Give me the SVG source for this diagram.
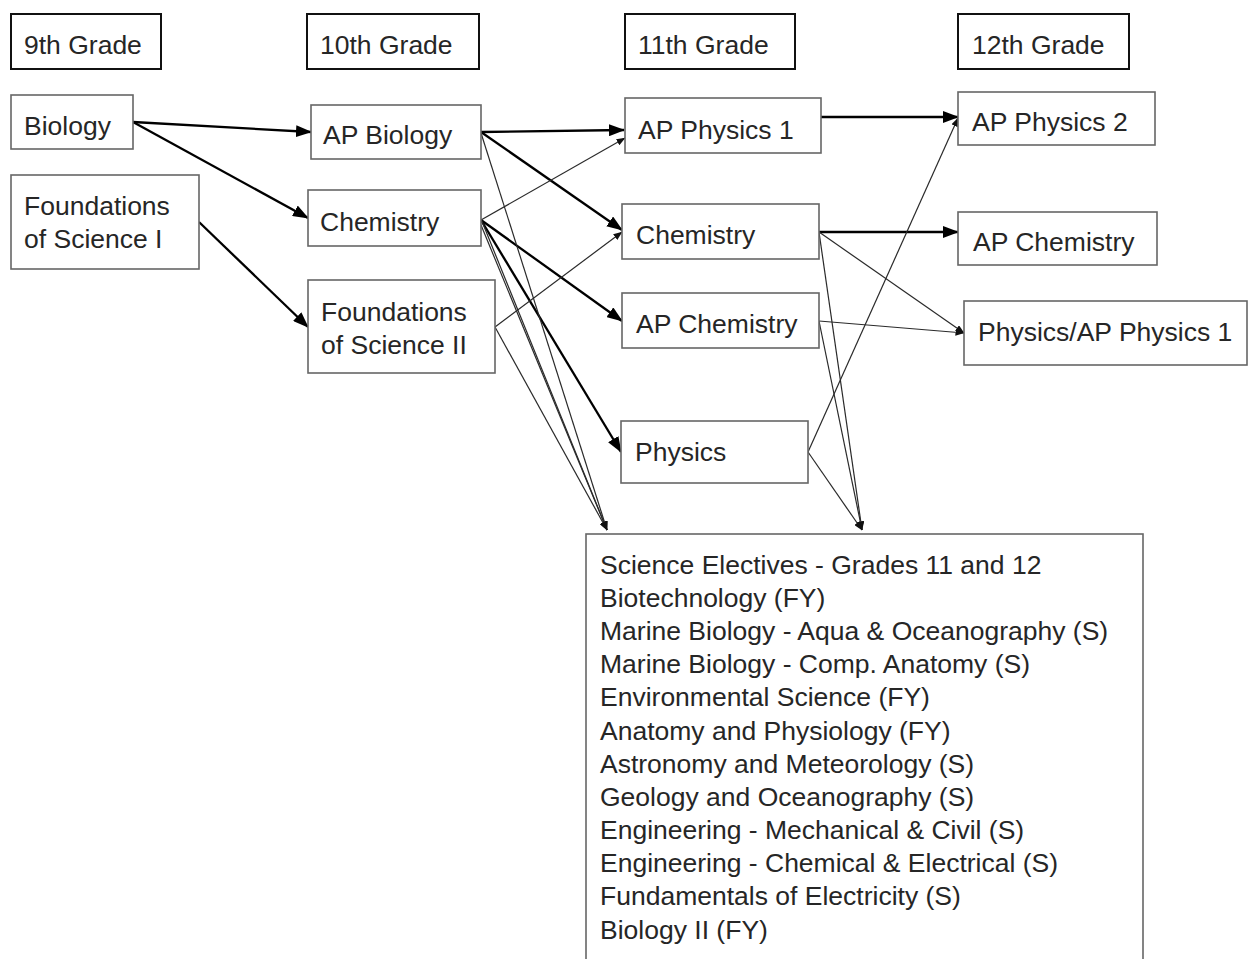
<svg xmlns="http://www.w3.org/2000/svg" width="1248" height="959" viewBox="0 0 1248 959">
<style>
text{font-family:"Liberation Sans",Arial,sans-serif;font-size:26.5px;fill:#262626}
.hdr{fill:#fff;stroke:#111;stroke-width:2}
.box{fill:#fff;stroke:#666;stroke-width:1.6}
.thick{stroke:#000;stroke-width:2.3;fill:none;marker-end:url(#big)}
.thin{stroke:#2a2a2a;stroke-width:1.2;fill:none;marker-end:url(#small)}
</style>
<defs>
<marker id="big" markerUnits="userSpaceOnUse" markerWidth="16" markerHeight="12" refX="15" refY="6" orient="auto"><path d="M0,0 L16,6 L0,12 z" fill="#000"/></marker>
<marker id="small" markerUnits="userSpaceOnUse" markerWidth="9" markerHeight="7" refX="8.5" refY="3.5" orient="auto"><path d="M0,0 L9,3.5 L0,7 z" fill="#111"/></marker>
</defs>
<rect width="1248" height="959" fill="#fff"/>
<g id="connectors">
<line class="thick" x1="133" y1="122" x2="311" y2="132"/>
<line class="thick" x1="133" y1="122" x2="308" y2="218"/>
<line class="thick" x1="199" y1="222" x2="308" y2="327"/>
<line class="thick" x1="481" y1="132" x2="624" y2="130"/>
<line class="thick" x1="481" y1="132" x2="622" y2="230"/>
<line class="thick" x1="481" y1="220" x2="622" y2="321"/>
<line class="thick" x1="481" y1="220" x2="621" y2="452"/>
<line class="thick" x1="821" y1="117" x2="958" y2="117"/>
<line class="thick" x1="819" y1="232" x2="958" y2="232"/>
<line class="thin" x1="481" y1="220" x2="625" y2="138"/>
<line class="thin" x1="495" y1="327" x2="622" y2="232"/>
<line class="thin" x1="481" y1="133" x2="607" y2="530"/>
<line class="thin" x1="481" y1="219" x2="607" y2="530"/>
<line class="thin" x1="481" y1="225" x2="607" y2="530"/>
<line class="thin" x1="495" y1="327" x2="607" y2="530"/>
<line class="thin" x1="819" y1="232" x2="862" y2="530"/>
<line class="thin" x1="819" y1="321" x2="862" y2="530"/>
<line class="thin" x1="808" y1="452" x2="862" y2="530"/>
<line class="thin" x1="808" y1="452" x2="958" y2="118"/>
<line class="thin" x1="819" y1="232" x2="964" y2="333"/>
<line class="thin" x1="819" y1="321" x2="964" y2="333"/>
</g>
<g id="h9"><rect class="hdr" x="11" y="14" width="150" height="55"/><text x="24" y="54">9th Grade</text></g>
<g id="h10"><rect class="hdr" x="307" y="14" width="172" height="55"/><text x="320" y="54">10th Grade</text></g>
<g id="h11"><rect class="hdr" x="625" y="14" width="170" height="55"/><text x="638" y="54">11th Grade</text></g>
<g id="h12"><rect class="hdr" x="958" y="14" width="171" height="55"/><text x="972" y="54">12th Grade</text></g>
<g id="biology"><rect class="box" x="11" y="95" width="122" height="54"/><text x="24" y="135">Biology</text></g>
<g id="fos1"><rect class="box" x="11" y="175" width="188" height="94"/><text x="24" y="215">Foundations</text><text x="24" y="248">of Science I</text></g>
<g id="apbio"><rect class="box" x="311" y="105" width="170" height="54"/><text x="323" y="144">AP Biology</text></g>
<g id="chem10"><rect class="box" x="308" y="190" width="173" height="56"/><text x="320" y="231">Chemistry</text></g>
<g id="fos2"><rect class="box" x="308" y="280" width="187" height="93"/><text x="321" y="321">Foundations</text><text x="321" y="354">of Science II</text></g>
<g id="apphys1"><rect class="box" x="625" y="98" width="196" height="55"/><text x="638" y="139">AP Physics 1</text></g>
<g id="chem11"><rect class="box" x="622" y="204" width="197" height="55"/><text x="636" y="244">Chemistry</text></g>
<g id="apchem11"><rect class="box" x="622" y="293" width="197" height="55"/><text x="636" y="333">AP Chemistry</text></g>
<g id="physics"><rect class="box" x="621" y="421" width="187" height="62"/><text x="635" y="461">Physics</text></g>
<g id="apphys2"><rect class="box" x="958" y="92" width="197" height="53"/><text x="972" y="131">AP Physics 2</text></g>
<g id="apchem12"><rect class="box" x="958" y="212" width="199" height="53"/><text x="973" y="251">AP Chemistry</text></g>
<g id="physap1"><rect class="box" x="964" y="301" width="283" height="64"/><text x="978" y="341">Physics/AP Physics 1</text></g>
<g id="electives"><rect class="box" x="586" y="534" width="557" height="440"/>
<text x="600" y="574">Science Electives - Grades 11 and 12</text>
<text x="600" y="607">Biotechnology (FY)</text>
<text x="600" y="640">Marine Biology - Aqua &amp; Oceanography (S)</text>
<text x="600" y="673">Marine Biology - Comp. Anatomy (S)</text>
<text x="600" y="706">Environmental Science (FY)</text>
<text x="600" y="740">Anatomy and Physiology (FY)</text>
<text x="600" y="773">Astronomy and Meteorology (S)</text>
<text x="600" y="806">Geology and Oceanography (S)</text>
<text x="600" y="839">Engineering - Mechanical &amp; Civil (S)</text>
<text x="600" y="872">Engineering - Chemical &amp; Electrical (S)</text>
<text x="600" y="905">Fundamentals of Electricity (S)</text>
<text x="600" y="939">Biology II (FY)</text>
</g>
</svg>
